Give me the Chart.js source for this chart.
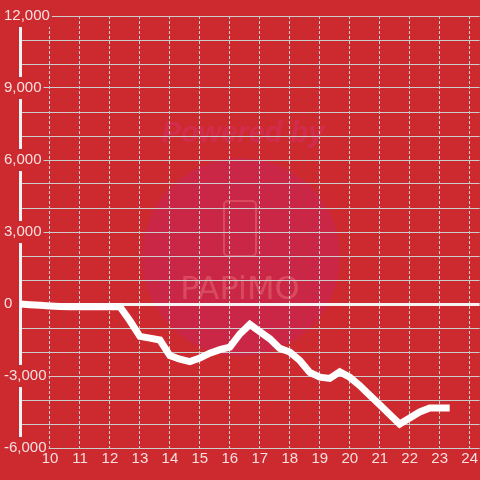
<!DOCTYPE html>
<html>
<head>
<meta charset="utf-8">
<script src="https://cdn.jsdelivr.net/npm/chart.js@4.4.1/dist/chart.umd.min.js"></script>
<style>
  html, body { margin: 0; padding: 0; background: #cd2a2f; }
  canvas { display: block; }
</style>
</head>
<body>
<canvas id="myChart" width="480" height="480"></canvas>
<script>
// DATA //
var times = ['9:00', '9:20', '9:40', '10:00', '10:20', '10:40', '11:00', '11:20', '11:40',
    '12:00', '12:20', '12:40', '13:00', '13:20', '13:40', '14:00', '14:20', '14:40',
    '15:00', '15:20', '15:40', '16:00', '16:20', '16:40', '17:00', '17:20', '17:40',
    '18:00', '18:20', '18:40', '19:00', '19:20', '19:40', '20:00', '20:20', '20:40',
    '21:00', '21:20', '21:40', '22:00', '22:20', '22:40', '23:00', '23:20'];
var profit = [0, -30, -55, -80, -100, -110, -110, -110, -110,
    -110, -110, -700, -1350, -1420, -1500, -2150, -2300, -2400,
    -2250, -2050, -1900, -1800, -1250, -850, -1150, -1450, -1850,
    -2000, -2350, -2850, -3050, -3100, -2830, -3050, -3400, -3800,
    -4200, -4600, -5000, -4750, -4500, -4330, -4330, -4330];
var hourTicks = [10, 11, 12, 13, 14, 15, 16, 17, 18, 19, 20, 21, 22, 23, 24];
var yMin = -6000, yMax = 12000;

var BG = '#cd2a2f';
var TEXT = 'rgba(255,255,255,0.85)';

function toHour(t) {
    var p = t.split(':');
    return Number(p[0]) + Number(p[1]) / 60;
}

var points = times.map(function (t, i) {
    return { x: toHour(t), y: profit[i] };
});

// background + watermark
var watermark = {
    id: 'watermark',
    beforeDraw: function (chart) {
        var c = chart.ctx;
        c.save();
        c.fillStyle = BG;
        c.fillRect(0, 0, chart.width, chart.height);

        c.fillStyle = 'rgba(200,38,78,0.7)';
        c.beginPath();
        c.arc(241, 257, 99, 0, Math.PI * 2);
        c.fill();

        c.fillStyle = 'rgba(210,45,85,0.75)';
        c.font = 'italic bold 29px "Liberation Sans", Arial, sans-serif';
        c.textAlign = 'center';
        c.textBaseline = 'middle';
        c.fillText('Powered by', 243, 134);

        c.strokeStyle = 'rgba(235,110,120,0.5)';
        c.lineWidth = 2;
        c.beginPath();
        c.roundRect(224, 201, 32, 55, 4);
        c.stroke();

        c.fillStyle = 'rgba(235,110,120,0.5)';
        c.font = '32px "DejaVu Sans", sans-serif';
        c.fillText('PAPiMO', 240, 291);
        c.restore();
    }
};

var ctx = document.getElementById('myChart').getContext('2d');
var chart = new Chart(ctx, {
    type: 'line',
    data: {
        datasets: [{
            data: points,
            borderColor: '#ffffff',
            borderWidth: 7,
            pointRadius: 0,
            fill: false,
            tension: 0
        }]
    },
    options: {
        responsive: false,
        animation: false,
        layout: { autoPadding: false, padding: { left: 20, top: 16, right: 0, bottom: 0 } },
        plugins: { legend: { display: false }, tooltip: { enabled: false } },
        scales: {
            x: {
                type: 'linear',
                min: 9,
                max: 24 + 1 / 3,
                afterBuildTicks: function (scale) {
                    scale.ticks = hourTicks.map(function (h) { return { value: h }; });
                },
                afterFit: function (scale) { scale.height = 32; },
                ticks: {
                    color: TEXT,
                    font: { size: 15, family: '"Liberation Sans", Arial, sans-serif' },
                    padding: 2,
                    autoSkip: false,
                    maxRotation: 0,
                    z: 1
                },
                grid: { color: '#d2d2d2', lineWidth: 1, drawTicks: false },
                border: { display: false, dash: [3, 2] }
            },
            y: {
                min: yMin,
                max: yMax,
                afterFit: function (scale) { scale.width = 0; },
                ticks: {
                    stepSize: 1000,
                    mirror: true,
                    padding: -16,
                    color: TEXT,
                    font: { size: 15, family: '"Liberation Sans", Arial, sans-serif' },
                    callback: function (v) {
                        return v % 3000 === 0 ? v.toLocaleString('en-US') : '';
                    },
                    showLabelBackdrop: function (c) {
                        return !!c.tick && c.tick.value % 3000 === 0;
                    },
                    backdropColor: BG,
                    backdropPadding: 2
                },
                grid: {
                    drawTicks: false,
                    color: function (c) {
                        return c.tick && c.tick.value === 0 ? '#f4f4f4' : '#cccccc';
                    },
                    lineWidth: function (c) {
                        return c.tick && c.tick.value === 0 ? 3 : 1;
                    }
                },
                border: { color: '#f2f2f2', width: 3 }
            }
        }
    },
    plugins: [watermark]
});
</script>
</body>
</html>
